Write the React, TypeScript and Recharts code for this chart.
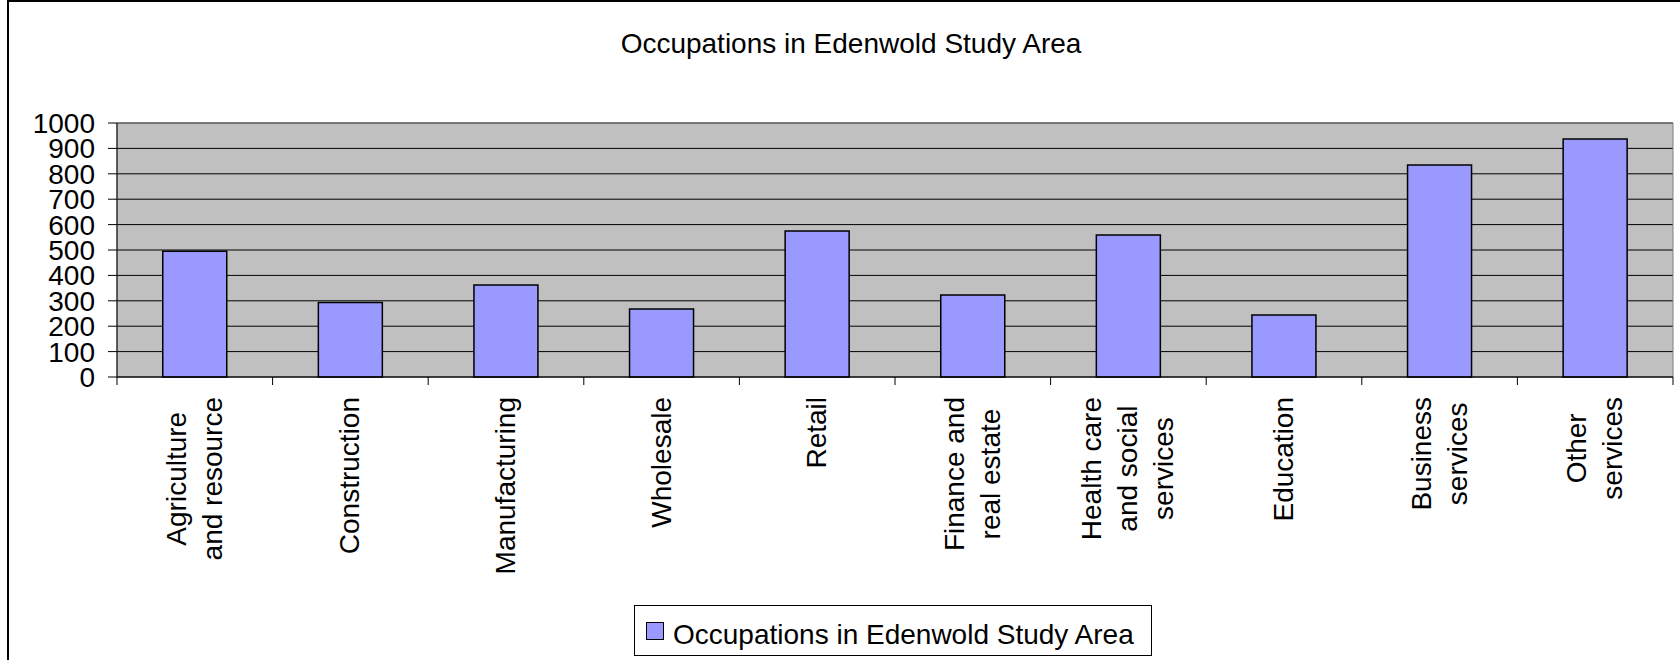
import { BarChart, Bar, XAxis, YAxis, CartesianGrid, ReferenceArea } from "recharts";

const categories = [
  "Agriculture\nand resource",
  "Construction",
  "Manufacturing",
  "Wholesale",
  "Retail",
  "Finance and\nreal estate",
  "Health care\nand social\nservices",
  "Education",
  "Business\nservices",
  "Other\nservices",
];
const occupations = [495, 293, 362, 268, 575, 323, 559, 244, 835, 937];
const yTicks = [0, 100, 200, 300, 400, 500, 600, 700, 800, 900, 1000];

const SERIES_NAME = "Occupations in Edenwold Study Area";
const FONT = "'Liberation Sans', Arial, Helvetica, sans-serif";
const FONT_SIZE = 28;
const LINE_PITCH = 36;

const rows = categories.map((name, i) => ({ name, value: occupations[i] }));

let ctx: CanvasRenderingContext2D | null = null;
function measure(text: string): number {
  if (!ctx) {
    ctx = document.createElement("canvas").getContext("2d");
    if (ctx) ctx.font = `${FONT_SIZE}px ${FONT}`;
  }
  return ctx ? ctx.measureText(text).width : text.length * FONT_SIZE * 0.5;
}

function CategoryTick(props: any) {
  const { x, y, payload } = props;
  const half = payload.offset ?? 0;
  const idx = payload.index ?? props.index;
  const lines = String(payload.value).split("\n");
  const longest = Math.max(...lines.map(measure));
  const cy = y + 12 + longest / 2;
  const n = lines.length;
  return (
    <g>
      <line x1={x - half} x2={x - half} y1={y - 8} y2={y} stroke="#000" />
      {idx === categories.length - 1 && (
        <line x1={x + half} x2={x + half} y1={y - 8} y2={y} stroke="#000" />
      )}
      {lines.map((line, i) => (
        <text
          key={i}
          transform={`translate(${x + (i - (n - 1) / 2) * LINE_PITCH} ${cy}) rotate(-90)`}
          textAnchor="middle"
          dy="0.32em"
          fontSize={FONT_SIZE}
          fontFamily={FONT}
          fill="#000"
        >
          {line}
        </text>
      ))}
    </g>
  );
}

export default function App() {
  return (
    <div
      style={{
        position: "relative",
        width: 1680,
        height: 660,
        overflow: "hidden",
        background: "#fff",
        fontFamily: FONT,
      }}
    >
      <style>{"body{margin:0}"}</style>
      {/* outer chart frame, runs off the right and bottom edges */}
      <div
        style={{
          position: "absolute",
          left: 7,
          top: 0,
          width: 1720,
          height: 720,
          borderTop: "2px solid #000",
          borderLeft: "2px solid #000",
        }}
      />
      <div
        style={{
          position: "absolute",
          left: 551,
          top: 28,
          width: 600,
          textAlign: "center",
          fontSize: FONT_SIZE,
          lineHeight: "32px",
          color: "#000",
        }}
      >
        {SERIES_NAME}
      </div>
      <div style={{ position: "absolute", left: 0, top: 0 }}>
        <BarChart
          width={1680}
          height={660}
          data={rows}
          barCategoryGap="29.4%"
          margin={{ top: 123, right: 7, left: 17, bottom: 63 }}
        >
          <CartesianGrid vertical={false} stroke="#000" fill="#C0C0C0" fillOpacity={1} />
          <ReferenceArea y1={0} y2={1000} fill="none" stroke="#808080" ifOverflow="visible" />
          <XAxis
            dataKey="name"
            interval={0}
            height={220}
            tickLine={false}
            tickSize={8}
            tickMargin={0}
            axisLine={{ stroke: "#000" }}
            tick={<CategoryTick />}
          />
          <YAxis
            domain={[0, 1000]}
            ticks={yTicks}
            interval={0}
            width={100}
            tickSize={9}
            tickMargin={13}
            axisLine={{ stroke: "#000" }}
            tickLine={{ stroke: "#000" }}
            tick={{ fontSize: FONT_SIZE, fill: "#000", fontFamily: FONT }}
          />
          <Bar
            dataKey="value"
            name={SERIES_NAME}
            fill="#9999FF"
            stroke="#000"
            strokeWidth={1.5}
            isAnimationActive={false}
          />
        </BarChart>
      </div>
      <div
        style={{
          position: "absolute",
          left: 634,
          top: 605,
          width: 518,
          height: 51,
          boxSizing: "border-box",
          border: "1px solid #000",
          background: "#fff",
        }}
      >
        <div
          style={{
            position: "absolute",
            left: 11,
            top: 16,
            width: 18,
            height: 18,
            boxSizing: "border-box",
            border: "1px solid #000",
            background: "#9999FF",
          }}
        />
        <div
          style={{
            position: "absolute",
            left: 38,
            top: 13,
            fontSize: FONT_SIZE,
            lineHeight: "32px",
            whiteSpace: "nowrap",
            color: "#000",
          }}
        >
          {SERIES_NAME}
        </div>
      </div>
    </div>
  );
}
